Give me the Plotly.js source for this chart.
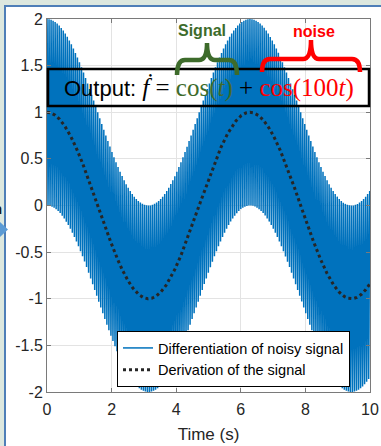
<!DOCTYPE html>
<html>
<head>
<meta charset="utf-8">
<script src="https://cdn.plot.ly/plotly-3.0.1.min.js"></script>
<style>
  html, body { margin: 0; padding: 0; }
  body { width: 381px; height: 446px; background: #dde8df; position: relative; overflow: hidden; }
  #panel { position: absolute; left: 4px; top: 5px; right: 0; bottom: 0; background: #ffffff;
           border-left: 2px solid #4f7fb8; border-top: 2px solid #4f7fb8; }
  #chart { position: absolute; left: 0; top: 0; width: 381px; height: 446px; }
</style>
</head>
<body>
<div id="panel"></div>
<div id="chart"></div>
<script>
// Output expression: f' = cos(t) + cos(100 t)
const cosineFreqs = [1, 100];      // rad/s of each term
const cosineAmps = [1, 1];         // amplitude of each term
const timeSpan = [0, 10];          // seconds
const sampleStep = [0.001];        // seconds between samples

const seriesNames = ['Differentiation of noisy signal', 'Derivation of the signal'];
const xTickVals = [0, 2, 4, 6, 8, 10];
const xTickText = ['0', '2', '4', '6', '8', '10'];
const yTickVals = [-2, -1.5, -1, -0.5, 0, 0.5, 1, 1.5, 2];
const yTickText = ['-2', '-1.5', '-1', '-0.5', '0', '0.5', '1', '1.5', '2'];

// sample the expression
const t = [], noisy = [], clean = [];
const n = Math.round((timeSpan[1] - timeSpan[0]) / sampleStep[0]);
for (let i = 0; i <= n; i++) {
  const ti = timeSpan[0] + i * sampleStep[0];
  t.push(ti);
  let s = 0;
  for (let k = 0; k < cosineFreqs.length; k++) s += cosineAmps[k] * Math.cos(cosineFreqs[k] * ti);
  noisy.push(s);
  clean.push(cosineAmps[0] * Math.cos(cosineFreqs[0] * ti));
}

// plot-area geometry in pixels
const W = 381, H = 446, L = 47, R = 11, T = 19, B = 54;
const pw = W - L - R, ph = H - T - B;
const px = v => (v - L) / pw;
const py = v => (H - B - v) / ph;
// brace path from pixel points: left tip, right tip, level of the tips, the arms and the cusp
function brace(x0, x1, yTip, yArm, yCusp) {
  const xm = (x0 + x1) / 2, r = 8;
  const P = (x, y) => px(x).toFixed(4) + ',' + py(y).toFixed(4);
  return 'M' + P(x0, yTip) +
         ' Q' + P(x0, yArm) + ' ' + P(x0 + r, yArm) +
         ' L' + P(xm - r, yArm) +
         ' Q' + P(xm, yArm) + ' ' + P(xm, yCusp) +
         ' Q' + P(xm, yArm) + ' ' + P(xm + r, yArm) +
         ' L' + P(x1 - r, yArm) +
         ' Q' + P(x1, yArm) + ' ' + P(x1, yTip);
}

const traces = [
  { x: t, y: noisy, type: 'scatter', mode: 'lines', name: seriesNames[0],
    line: { color: '#0072BD', width: 1.5 } },
  { x: t, y: clean, type: 'scatter', mode: 'lines', name: seriesNames[1],
    line: { color: '#262626', width: 3, dash: 'dot' } }
];

const axisCommon = {
  showline: true, linecolor: '#7a7a7a', linewidth: 1, mirror: 'ticks',
  ticks: 'inside', ticklen: 4, tickcolor: '#7a7a7a', tickwidth: 1,
  showgrid: true, gridcolor: '#e3e3e3', gridwidth: 1, zeroline: false,
  tickfont: { family: 'Liberation Sans, Arial, sans-serif', size: 16, color: '#262626' }
};

const layout = {
  width: W, height: H,
  margin: { l: L, r: R, t: T, b: B, pad: 0 },
  paper_bgcolor: 'rgba(0,0,0,0)', plot_bgcolor: '#ffffff',
  showlegend: true,
  xaxis: Object.assign({}, axisCommon, {
    range: [0, 10], tickmode: 'array', tickvals: xTickVals, ticktext: xTickText,
    ticklabelstandoff: 3,
    title: { text: 'Time (s)', standoff: 10,
             font: { family: 'Liberation Sans, Arial, sans-serif', size: 17, color: '#262626' } }
  }),
  yaxis: Object.assign({}, axisCommon, {
    range: [-2, 2], tickmode: 'array', tickvals: yTickVals, ticktext: yTickText
  }),
  legend: {
    x: px(350), xanchor: 'right', y: py(387), yanchor: 'bottom',
    bgcolor: '#ffffff', bordercolor: '#000000', borderwidth: 1,
    font: { family: 'Liberation Sans, Arial, sans-serif', size: 14.5, color: '#000000' },
    tracegroupgap: 0, itemwidth: 30
  },
  shapes: [
    // expression frame
    { type: 'rect', xref: 'paper', yref: 'paper', x0: px(48), x1: px(369), y0: py(106), y1: py(69),
      line: { color: '#000000', width: 2.5 }, fillcolor: 'rgba(0,0,0,0)' },
    // braces over the two terms
    { type: 'path', xref: 'paper', yref: 'paper', path: brace(177, 237, 75, 60, 43),
      line: { color: '#3d6b2b', width: 4.5 } },
    { type: 'path', xref: 'paper', yref: 'paper', path: brace(262, 360, 72, 59, 40),
      line: { color: '#ff0000', width: 4.5 } },
    // arrow tip entering from the left
    { type: 'path', xref: 'paper', yref: 'paper',
      path: 'M' + px(0) + ',' + py(222) + ' L' + px(8) + ',' + py(229.5) + ' L' + px(0) + ',' + py(237) + ' Z',
      fillcolor: '#5b9bd5', line: { width: 0 } }
  ],
  annotations: [
    { xref: 'paper', yref: 'paper', x: px(209), y: py(88), xanchor: 'center', yanchor: 'middle',
      showarrow: false,
      font: { family: 'Liberation Sans, Arial, sans-serif', size: 22, color: '#000000' },
      text: 'Output: <span style="font-family:\'Liberation Serif\',\'DejaVu Serif\',serif;font-size:25px">' +
            '<i>ḟ</i> = <span style="color:#3d6b2b">cos(<i>t</i>)</span> + ' +
            '<span style="color:#ff0000">cos(100<i>t</i>)</span></span>' },
    { xref: 'paper', yref: 'paper', x: px(202), y: py(30), xanchor: 'center', yanchor: 'middle',
      showarrow: false, text: '<b>Signal</b>',
      font: { family: 'Liberation Sans, Arial, sans-serif', size: 16, color: '#3d6b2b' } },
    { xref: 'paper', yref: 'paper', x: px(314), y: py(31), xanchor: 'center', yanchor: 'middle',
      showarrow: false, text: '<b>noise</b>',
      font: { family: 'Liberation Sans, Arial, sans-serif', size: 16, color: '#ff0000' } },
    { xref: 'paper', yref: 'paper', x: px(4), y: py(208), xanchor: 'right', yanchor: 'middle',
      showarrow: false, text: '<b>n</b>',
      font: { family: 'Liberation Sans, Arial, sans-serif', size: 15, color: '#1a1a1a' } }
  ]
};

Plotly.newPlot('chart', traces, layout, { displayModeBar: false, staticPlot: true });
</script>
</body>
</html>
